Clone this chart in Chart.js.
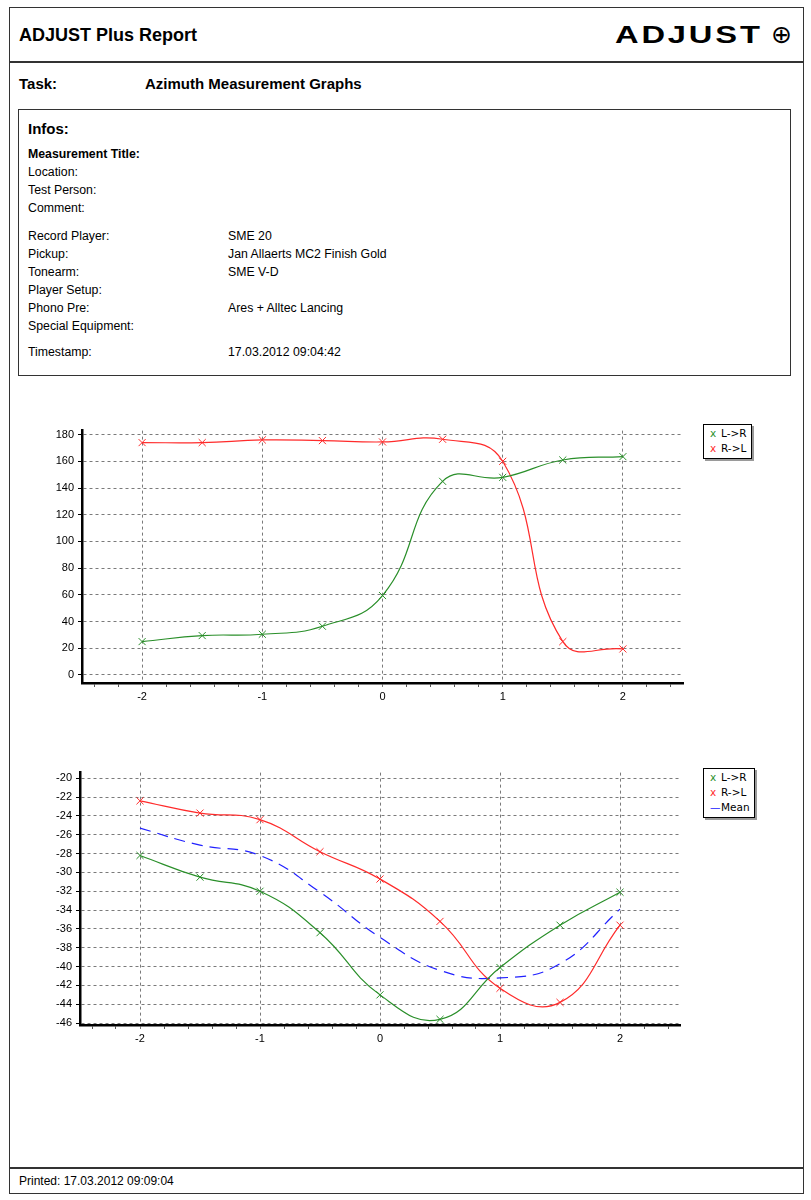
<!DOCTYPE html>
<html>
<head>
<meta charset="utf-8">
<script src="https://cdn.jsdelivr.net/npm/chart.js@4.4.1/dist/chart.umd.min.js"></script>
<style>
  html, body { margin:0; padding:0; background:#fff; }
  body { width:811px; height:1200px; position:relative; overflow:hidden; font-family:"Liberation Sans", Arial, sans-serif; color:#000; }
  .abs { position:absolute; white-space:nowrap; }
  .t { position:absolute; white-space:nowrap; font-size:12.3px; line-height:14px; }
  .legend { position:absolute; background:#fff; border:1px solid #000; box-shadow:2px 2px 0 #9a9a9a; font-family:"DejaVu Sans", sans-serif; font-size:10.5px; line-height:15px; padding:1px 4px 2px 6px; }
  .legend .m { display:inline-block; width:11px; }
  canvas { position:absolute; }
</style>
</head>
<body>
<!-- frame -->
<div class="abs" style="left:9px;top:7px;width:793px;height:1185px;border:1px solid #333;"></div>
<div class="abs" style="left:9px;top:61px;width:795px;height:2px;background:#333;"></div>
<div class="abs" style="left:9px;top:1167px;width:795px;height:2px;background:#333;"></div>

<div class="abs" style="left:19px;top:24px;font-size:18px;line-height:22px;font-weight:bold;">ADJUST Plus Report</div>
<div class="abs" style="left:615px;top:20px;font-size:23px;line-height:30px;">
  <span style="display:inline-block;transform:scaleX(1.42);transform-origin:left center;letter-spacing:2px;font-weight:bold;">ADJUST</span>
</div>
<div class="abs" style="left:771px;top:20px;font-size:25px;line-height:30px;font-family:'DejaVu Sans',sans-serif;">⊕</div>

<div class="abs" style="left:19px;top:75px;font-size:15px;line-height:18px;font-weight:bold;">Task:</div>
<div class="abs" style="left:145px;top:75px;font-size:15px;line-height:18px;font-weight:bold;">Azimuth Measurement Graphs</div>

<!-- infos box -->
<div class="abs" style="left:18px;top:109px;width:771px;height:265px;border:1px solid #333;"></div>
<div class="abs" style="left:28px;top:120px;font-size:15px;line-height:18px;font-weight:bold;">Infos:</div>
<div id="infos"></div>

<!-- charts -->
<canvas id="c1" width="680" height="290" style="left:20px;top:420px;"></canvas>
<canvas id="c2" width="680" height="290" style="left:18px;top:762px;"></canvas>
<div id="leg1" class="legend" style="left:703px;top:424px;"></div>
<div id="leg2" class="legend" style="left:703px;top:768px;"></div>

<div class="abs" style="left:19px;top:1174px;font-size:12px;line-height:14px;">Printed: 17.03.2012 09:09:04</div>

<script>
// ---------- data ----------
const xValues = [-2, -1.5, -1, -0.5, 0, 0.5, 1, 1.5, 2];
const xTickLabels = [-2, -1, 0, 1, 2];

// Graph 1
const g1LtoR = [25, 29.5, 30.5, 36.5, 59.5, 145, 148, 161, 163.5];
const g1RtoL = [174, 174, 176, 175.5, 174.5, 176.5, 160, 25, 19.5];
const g1YTicks = [0, 20, 40, 60, 80, 100, 120, 140, 160, 180];

// Graph 2
const g2LtoR = [-28.2, -30.5, -32.0, -36.4, -43.0, -45.6, -40.1, -35.6, -32.1];
const g2RtoL = [-22.4, -23.7, -24.4, -27.8, -30.7, -35.2, -42.3, -43.8, -35.6];
const g2Mean = [-25.3, -27.1, -28.2, -32.1, -36.9, -40.4, -41.2, -39.7, -33.9];
const g2YTicks = [-46, -44, -42, -40, -38, -36, -34, -32, -30, -28, -26, -24, -22, -20];

const infoRows = [
  ["Measurement Title:", "", 154, true],
  ["Location:", "", 172],
  ["Test Person:", "", 190],
  ["Comment:", "", 208],
  ["Record Player:", "SME 20", 236],
  ["Pickup:", "Jan Allaerts MC2 Finish Gold", 254],
  ["Tonearm:", "SME V-D", 272],
  ["Player Setup:", "", 290],
  ["Phono Pre:", "Ares + Alltec Lancing", 308],
  ["Special Equipment:", "", 326],
  ["Timestamp:", "17.03.2012 09:04:42", 352]
];

// ---------- info text ----------
const infos = document.getElementById('infos');
infoRows.forEach(r => {
  const a = document.createElement('div');
  a.className = 't';
  a.style.left = '28px'; a.style.top = (r[2] - 7) + 'px';
  if (r[3]) a.style.fontWeight = 'bold';
  a.textContent = r[0];
  infos.appendChild(a);
  if (r[1]) {
    const b = document.createElement('div');
    b.className = 't';
    b.style.left = '228px'; b.style.top = (r[2] - 7) + 'px';
    b.textContent = r[1];
    infos.appendChild(b);
  }
});

// ---------- charts ----------
const GREEN = '#2a8f2a', RED = '#ff2b2b', BLUE = '#2020ff';
const minorX = [];
for (let i = -12; i <= 12; i++) minorX.push(i / 5);
const isMajor = v => Math.abs(v - Math.round(v)) < 1e-6 && xTickLabels.includes(Math.round(v));
const tickFont = { family: "'Liberation Sans', Arial, sans-serif", size: 11 };

function pts(ys) { return xValues.map((x, i) => ({ x: x, y: ys[i] })); }

function ds(label, ys, color, dashed) {
  return {
    label: label,
    data: pts(ys),
    borderColor: color,
    backgroundColor: color,
    borderWidth: 1.2,
    tension: 0.45,
    borderDash: dashed ? [11, 7] : [],
    pointStyle: 'crossRot',
    pointRadius: dashed ? 0 : 5,
    pointBorderWidth: 1,
    pointBorderColor: color,
    fill: false
  };
}

function makeChart(id, datasets, yMin, yMax, yTicks, padRight) {
  return new Chart(document.getElementById(id), {
    type: 'line',
    data: { datasets: datasets },
    options: {
      responsive: false,
      animation: false,
      devicePixelRatio: 1,
      layout: { padding: { top: 10, right: padRight, left: 0, bottom: 0 } },
      plugins: { legend: { display: false }, tooltip: { enabled: false } },
      scales: {
        x: {
          type: 'linear', min: -2.5, max: 2.5,
          afterBuildTicks: s => { s.ticks = minorX.map(v => ({ value: v })); },
          afterFit: s => { s.height = 27; },
          ticks: {
            autoSkip: false, maxRotation: 0, color: '#000', font: tickFont, padding: 3,
            callback: v => isMajor(v) ? String(Math.round(v)) : ''
          },
          grid: {
            color: c => (c.tick && isMajor(c.tick.value)) ? '#7a7a7a' : 'rgba(0,0,0,0)',
            lineWidth: 1,
            tickColor: c => (c.tick && isMajor(c.tick.value)) ? '#7a7a7a' : '#555',
            tickLength: 4
          },
          border: { display: true, color: '#000', width: 2.5, dash: [3, 3] }
        },
        y: {
          type: 'linear', min: yMin, max: yMax,
          afterBuildTicks: s => { s.ticks = yTicks.map(v => ({ value: v })); },
          afterFit: s => { s.width = 62; },
          ticks: { color: '#000', font: tickFont, padding: 4 },
          grid: { color: '#7a7a7a', lineWidth: 1, tickColor: '#000', tickLength: 4 },
          border: { display: true, color: '#000', width: 2.5, dash: [3, 3] }
        }
      }
    }
  });
}

const ch1 = makeChart('c1', [
  ds('L->R', g1LtoR, GREEN, false),
  ds('R->L', g1RtoL, RED, false)
], -6, 183, g1YTicks, 17);

const ch2 = makeChart('c2', [
  ds('L->R', g2LtoR, GREEN, false),
  ds('R->L', g2RtoL, RED, false),
  ds('Mean', g2Mean, BLUE, true)
], -46.2, -19.4, g2YTicks, 18);

function buildLegend(elId, chart) {
  const el = document.getElementById(elId);
  chart.data.datasets.forEach(d => {
    const row = document.createElement('div');
    const m = document.createElement('span');
    m.className = 'm';
    m.style.color = d.borderColor;
    m.textContent = d.pointRadius ? 'x' : '—';
    const l = document.createElement('span');
    l.textContent = d.label;
    row.appendChild(m); row.appendChild(l);
    el.appendChild(row);
  });
}
buildLegend('leg1', ch1);
buildLegend('leg2', ch2);
</script>
</body>
</html>
